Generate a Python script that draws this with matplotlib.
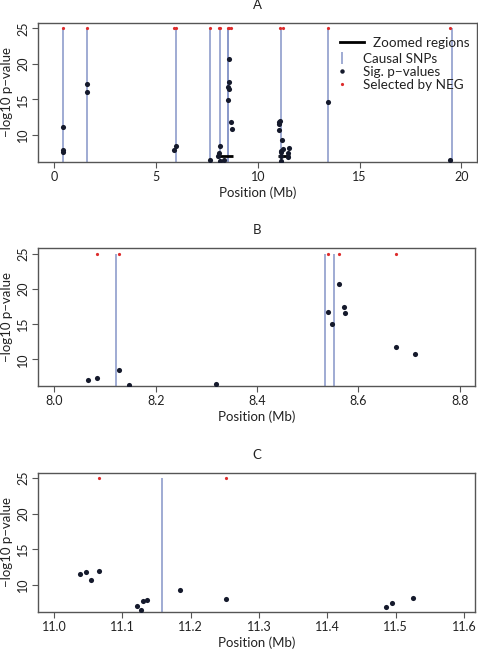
#!/usr/bin/env python3
"""Three-panel association plot: genome-wide view (A) and two zoomed regions (B, C)."""

import matplotlib
matplotlib.use("Agg")
import matplotlib.pyplot as plt
from matplotlib.lines import Line2D

plt.rcParams["font.family"] = ["Lato", "DejaVu Sans"]

# causal SNP positions (Mb)
causal_pos = [0.44, 1.59, 5.97, 7.65, 8.122, 8.534, 8.552, 11.158, 13.43, 19.53]

# SNPs selected by NEG (Mb)
neg_pos = [0.44, 1.59, 5.90, 5.98, 7.65, 8.084, 8.128, 8.539, 8.562, 8.675,
           11.066, 11.251, 13.43, 19.45]

# significant p-values: position (Mb) and -log10 p
sig_pos = [0.44, 0.44, 0.44, 1.59, 1.59, 5.90, 5.98, 7.65,
           8.067, 8.084, 8.128, 8.147, 8.318, 8.539, 8.547, 8.561, 8.571, 8.573,
           8.675, 8.711,
           11.038, 11.047, 11.054, 11.066, 11.122, 11.127, 11.130, 11.136, 11.185,
           11.251, 11.486, 11.495, 11.525,
           13.43, 19.45]
sig_logp = [11.14, 7.9, 7.65, 17.15, 16.07, 7.86, 8.42, 6.55,
            7.0, 7.4, 8.47, 6.3, 6.55, 16.73, 14.94, 20.68, 17.48, 16.5,
            11.76, 10.77,
            11.52, 11.85, 10.68, 11.99, 7.0, 6.4, 7.67, 7.8, 9.27,
            8.05, 6.87, 7.43, 8.14,
            14.66, 6.45]

# zoomed regions (Mb) and the level they are marked at
zoom_start = [8.0, 11.0]
zoom_end = [8.8, 11.6]
zoom_level = 7
top_level = 25

panels = [
    ("A", [-0.8, 20.77], [0, 5, 10, 15, 20], ["0", "5", "10", "15", "20"]),
    ("B", [7.968, 8.83], [8.0, 8.2, 8.4, 8.6, 8.8], ["8.0", "8.2", "8.4", "8.6", "8.8"]),
    ("C", [10.977, 11.616], [11.0, 11.1, 11.2, 11.3, 11.4, 11.5, 11.6],
     ["11.0", "11.1", "11.2", "11.3", "11.4", "11.5", "11.6"]),
]
yticks = [10, 15, 20, 25]

BLUE = "#8595c8"
DOT = "#151a2c"
RED = "#dd2c2c"
FRAME = "#555555"
TXT = "#222222"


def main() -> None:
    fig = plt.figure(figsize=(4.78, 6.49), dpi=100)
    boxes = [
        [0.0795, 0.7504, 0.9185, 0.2142],
        [0.0800, 0.4052, 0.9137, 0.2122],
        [0.0800, 0.0575, 0.9137, 0.2142],
    ]
    for (title, xlim, xt, xtl), box in zip(panels, boxes):
        ax = fig.add_axes(box)
        ax.vlines(causal_pos, 0, top_level, color=BLUE, lw=1.1, zorder=1)
        if title == "A":
            ax.hlines([zoom_level] * len(zoom_start), zoom_start, zoom_end,
                      color="black", lw=2.0, zorder=2)
        ax.plot(sig_pos, sig_logp, "o", color=DOT, ms=3.7, mew=0, zorder=3)
        ax.plot(neg_pos, [top_level] * len(neg_pos), "o", color=RED, ms=2.3, mew=0,
                zorder=4)

        ax.set_xlim(xlim)
        ax.set_ylim(6.2, 25.75)
        ax.set_xticks(xt)
        ax.set_xticklabels(xtl)
        ax.set_yticks(yticks)
        ax.set_yticklabels([str(v) for v in yticks], rotation=90, va="center")
        ax.tick_params(length=4, width=0.8, color=FRAME, labelsize=9, pad=2.5,
                       labelcolor=TXT)
        for sp in ax.spines.values():
            sp.set_color(FRAME)
            sp.set_linewidth(1.0)
        ax.set_xlabel("Position (Mb)", fontsize=9.5, labelpad=2.5, color=TXT)
        ax.set_ylabel("\u2212log10 p\u2212value", fontsize=9.5, labelpad=3, color=TXT)
        ax.set_title(title, fontsize=9.5, pad=10, color=TXT)

        if title == "A":
            # zoomed-region key sits a little apart from the marker keys
            leg1 = ax.legend([Line2D([], [], color="black", lw=2.0)], ["Zoomed regions"],
                             loc="upper left", bbox_to_anchor=(0.688, 0.9),
                             frameon=False, fontsize=9.7, handlelength=1.75,
                             handletextpad=0.7, borderpad=0, borderaxespad=0)
            handles = [
                Line2D([], [], ls="none", marker="|", color=BLUE, ms=9, mew=1.1),
                Line2D([], [], ls="none", marker="o", color=DOT, ms=3.2, mew=0),
                Line2D([], [], ls="none", marker="o", color=RED, ms=2.3, mew=0),
            ]
            labels = ["Causal SNPs", "Sig. p\u2212values", "Selected by NEG"]
            ax.legend(handles, labels, loc="upper left", bbox_to_anchor=(0.681, 0.786),
                      frameon=False, fontsize=9.7, handlelength=0.8, handletextpad=1.1,
                      labelspacing=0.09, borderpad=0, borderaxespad=0)
            ax.add_artist(leg1)
            for t in leg1.get_texts() + ax.get_legend().get_texts():
                t.set_color(TXT)

    fig.savefig("out.png", dpi=100)
    plt.close(fig)


if __name__ == "__main__":
    main()
